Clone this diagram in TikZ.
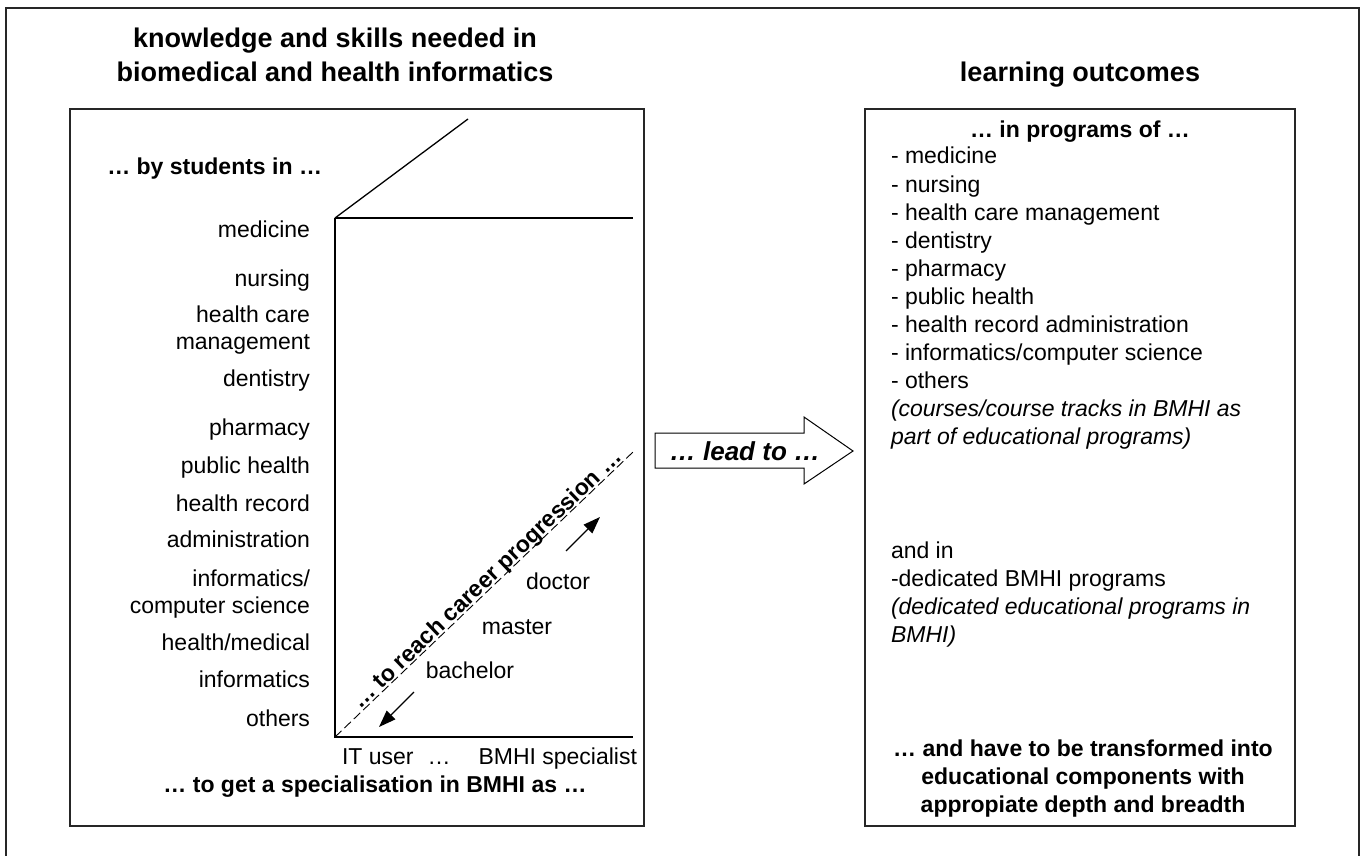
\documentclass[tikz,border=0pt]{standalone}
\usepackage{fontspec}
\setmainfont{Liberation Sans}
\usetikzlibrary{arrows.meta}
\begin{document}
\begin{tikzpicture}[x=1pt,y=-1pt,
  every node/.style={inner sep=0pt, outer sep=0pt},
  body/.style={font=\fontsize{23}{28}\selectfont, text height=16.5pt, text depth=4.5pt},
  bodyb/.style={body, font=\fontsize{23}{28}\selectfont\bfseries},
  bodyi/.style={body, font=\fontsize{23}{28}\selectfont\itshape},
  titlefont/.style={font=\fontsize{27}{34}\selectfont\bfseries, text height=19.5pt, text depth=5.5pt},
  frame/.style={draw=black!85, line width=1.3pt},
  axis/.style={draw=black, line width=1.3pt},
  dashline/.style={draw=black, line width=0.9pt, dash pattern=on 9pt off 4pt},
  tip/.style={-{Triangle[length=17pt,width=12pt]}, line width=1.3pt},
  lab/.style={body, anchor=east},
  item/.style={body, anchor=west},
  itemi/.style={bodyi, anchor=west}]
\useasboundingbox (0,0) rectangle (1362,856);
% outer frame
\draw[frame] (6,880) -- (6,8) -- (1359,8) -- (1359,880);
% boxes
\node[frame, anchor=north west, minimum width=574pt, minimum height=717pt] (lbox) at (70,109) {};
\node[frame, anchor=north west, minimum width=430pt, minimum height=717pt] (rbox) at (865,109) {};
% titles
\node[titlefont] (t1) at (335,41) {knowledge and skills needed in};
\node[titlefont] (t2) at (335,75) {biomedical and health informatics};
\node[titlefont] (t3) at (1080,75) {learning outcomes};
% left box
\node[bodyb, anchor=east] (bystud) at (322,168) {… by students in …};
\coordinate (O) at (335,737);
\coordinate (Otop) at (335,218);
\coordinate (Xend) at (633,737);
\coordinate (Ttop) at (633,218);
\coordinate (Dend) at (468,119);
\coordinate (Dash) at (633,452);
\draw[axis] (Otop) -- (O) -- (Xend);
\draw[axis] (Otop) -- (Ttop);
\draw[axis] (Otop) -- (Dend);
\draw[dashline] (O) -- (Dash) node[pos=0.53, sloped, anchor=south, bodyb, text depth=2pt] (career) {… to reach career progression …};
\coordinate (ua1) at (566,551);
\coordinate (ua2) at (600,517);
\coordinate (la1) at (414,692);
\coordinate (la2) at (379,727);
\draw[tip] (ua1) -- (ua2);
\draw[tip] (la1) -- (la2);
\node[body] (doctor) at (558,583) {doctor};
\node[body] (master) at (517,628) {master};
\node[body] (bachelor) at (470,672) {bachelor};
\node[body, anchor=west] (itu) at (342,758) {IT user};
\node[body] (itdots) at (439,758) {…};
\node[body, anchor=east] (spec) at (637,758) {BMHI specialist};
\node[bodyb] (getspec) at (375,786) {… to get a specialisation in BMHI as …};
% left labels
\node[lab] (l1) at (310,231) {medicine};
\node[lab] (l2) at (310,280) {nursing};
\node[lab] (l3a) at (310,316) {health care};
\node[lab] (l3b) at (310,343) {management};
\node[lab] (l4) at (310,380) {dentistry};
\node[lab] (l5) at (310,429) {pharmacy};
\node[lab] (l6) at (310,467) {public health};
\node[lab] (l7a) at (310,505) {health record};
\node[lab] (l7b) at (310,541) {administration};
\node[lab] (l8a) at (310,580) {informatics/};
\node[lab] (l8b) at (310,607) {computer science};
\node[lab] (l9a) at (310,644) {health/medical};
\node[lab] (l9b) at (310,681) {informatics};
\node[lab] (l10) at (310,720) {others};
% big arrow
\coordinate (a1) at (655,433);
\coordinate (a2) at (804,433);
\coordinate (a3) at (804,417);
\coordinate (a4) at (853,451);
\coordinate (a5) at (804,484);
\coordinate (a6) at (804,468);
\coordinate (a7) at (655,468);
\draw[line width=1pt, fill=white] (a1) -- (a2) -- (a3) -- (a4) -- (a5) -- (a6) -- (a7) -- cycle;
\node[font=\fontsize{26}{30}\selectfont\bfseries\itshape] (lead) at (745,451) {… lead to …};
% right box
\node[bodyb] (inprog) at (1080,132) {… in programs of …};
\node[item] (r1) at (891,158) {- medicine};
\node[item] (r2) at (891,186) {- nursing};
\node[item] (r3) at (891,214) {- health care management};
\node[item] (r4) at (891,242) {- dentistry};
\node[item] (r5) at (891,270) {- pharmacy};
\node[item] (r6) at (891,298) {- public health};
\node[item] (r7) at (891,326) {- health record administration};
\node[item] (r8) at (891,354) {- informatics/computer science};
\node[item] (r9) at (891,382) {- others};
\node[itemi] (r10) at (891,410) {(courses/course tracks in BMHI as};
\node[itemi] (r11) at (891,438) {part of educational programs)};
\node[item] (s1) at (891,552) {and in};
\node[item] (s2) at (891,580) {-dedicated BMHI programs};
\node[itemi] (s3) at (891,608) {(dedicated educational programs in};
\node[itemi] (s4) at (891,636) {BMHI)};
\node[bodyb] (b1) at (1083,750) {… and have to be transformed into};
\node[bodyb] (b2) at (1083,778) {educational components with};
\node[bodyb] (b3) at (1083,806) {appropiate depth and breadth};
\end{tikzpicture}
\end{document}
